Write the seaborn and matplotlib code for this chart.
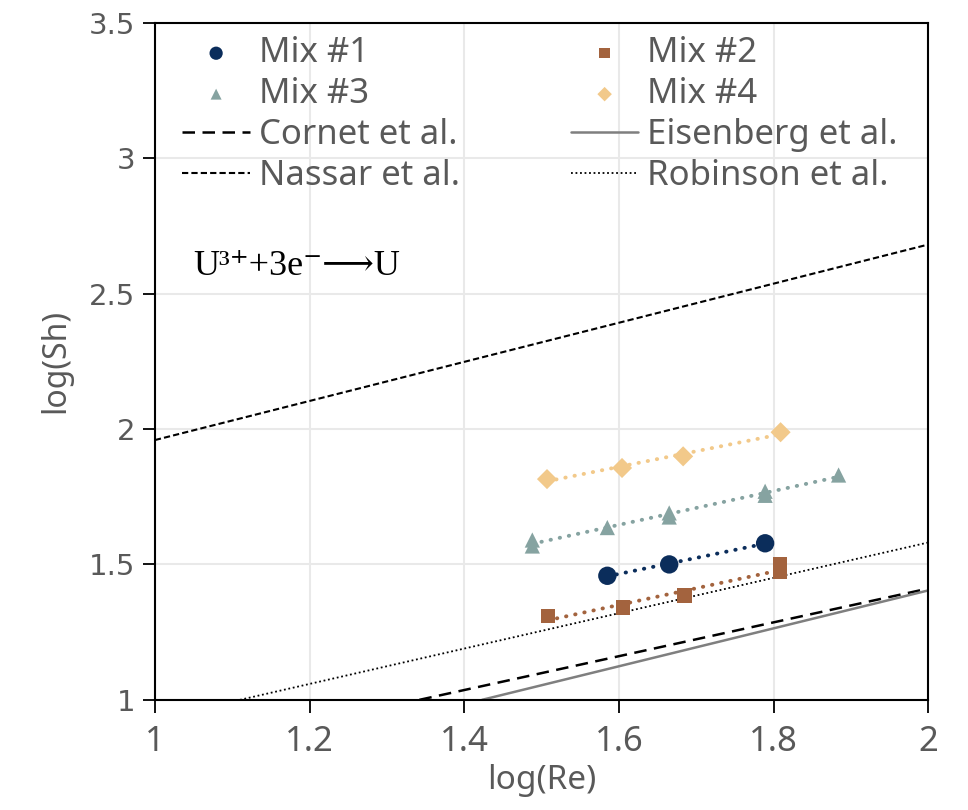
import numpy as np
import pandas as pd
import matplotlib
matplotlib.use("Agg")
import matplotlib.pyplot as plt
import seaborn as sns

# ==========================================================
# DATA
# ==========================================================
mix1_x = [1.585, 1.665, 1.789]
mix1_y = [1.458, 1.500, 1.578]

mix2_x = [1.508, 1.605, 1.685, 1.808, 1.808]
mix2_y = [1.310, 1.340, 1.385, 1.500, 1.472]

mix3_x = [1.488, 1.488, 1.585, 1.665, 1.665, 1.789, 1.789, 1.884]
mix3_y = [1.568, 1.590, 1.636, 1.675, 1.690, 1.755, 1.770, 1.830]

mix4_x = [1.507, 1.604, 1.683, 1.809]
mix4_y = [1.815, 1.856, 1.899, 1.988]

# literature correlations (end points of each line)
cornet_x = [1.342, 2.0]
cornet_y = [1.0, 1.411]
eisenberg_x = [1.423, 2.0]
eisenberg_y = [1.0, 1.404]
nassar_x = [1.0, 2.0]
nassar_y = [1.959, 2.681]
robinson_x = [1.11, 2.0]
robinson_y = [1.0, 1.581]

mix_names = ["Mix #1", "Mix #2", "Mix #3", "Mix #4"]
mix_colors = ["#0B2D5B", "#A3633E", "#86A3A1", "#F2C98A"]
mix_markers = ["o", "s", "^", "D"]
mix_sizes = [175, 110, 120, 105]

x_ticklabels = ["1", "1.2", "1.4", "1.6", "1.8", "2"]
y_ticklabels = ["1", "1.5", "2", "2.5", "3", "3.5"]

# ==========================================================
# STYLE
# ==========================================================
sns.set_theme(style="whitegrid")
plt.rcParams["font.family"] = ["Noto Sans", "DejaVu Sans"]
TXT = "#595959"

fig = plt.figure(figsize=(9.68, 8.10), dpi=100)
ax = fig.add_axes([0.160, 0.136, 0.799, 0.836])

mixes = [(mix1_x, mix1_y), (mix2_x, mix2_y), (mix3_x, mix3_y), (mix4_x, mix4_y)]
handles = {}
for (xs, ys), name, col, mk, sz in zip(mixes, mix_names, mix_colors, mix_markers, mix_sizes):
    df = pd.DataFrame({"x": xs, "y": ys})
    sns.regplot(data=df, x="x", y="y", ax=ax, ci=None, scatter=False,
                line_kws=dict(color=col, ls=(0, (0.1, 2.3)), lw=2.8,
                              dash_capstyle="round"))
    h = ax.scatter(df["x"], df["y"], s=sz, marker=mk, color=col,
                   edgecolor="none", zorder=4, label=name)
    handles[name] = h

lines = [
    ("Cornet et al.", cornet_x, cornet_y, dict(color="black", ls=(0, (5, 3)), lw=1.8)),
    ("Eisenberg et al.", eisenberg_x, eisenberg_y, dict(color="#7F7F7F", ls="-", lw=1.8)),
    ("Nassar et al.", nassar_x, nassar_y, dict(color="black", ls=(0, (3, 1.5)), lw=1.5)),
    ("Robinson et al.", robinson_x, robinson_y, dict(color="black", ls=(0, (1, 1.5)), lw=1.3)),
]
for name, xs, ys, kw in lines:
    sns.lineplot(x=xs, y=ys, ax=ax, estimator=None, sort=False, **kw)
    handles[name] = ax.get_lines()[-1]

ax.set_xlim(1, 2)
ax.set_ylim(1, 3.5)
ax.set_xticks(np.arange(1, 2.01, 0.2))
ax.set_xticklabels(x_ticklabels, fontsize=25, color=TXT)
ax.set_yticks(np.arange(1, 3.51, 0.5))
ax.set_yticklabels(y_ticklabels, fontsize=21, color=TXT, family="DejaVu Sans")

ax.set_facecolor("white")
ax.grid(True, color="#E9E9E9", lw=1.5)
for side in ["left", "bottom", "top", "right"]:
    ax.spines[side].set_visible(True)
    ax.spines[side].set_color("black")
    ax.spines[side].set_linewidth(1.5)
ax.tick_params(axis="both", which="major", direction="out", length=9, width=1.3,
               color="black", left=True, bottom=True)
ax.tick_params(axis="y", pad=5)
ax.tick_params(axis="x", pad=9)

ax.set_xlabel("log(Re)", fontsize=24, color=TXT, labelpad=4)
ax.set_ylabel("log(Sh)", fontsize=23, color=TXT, labelpad=12)

ax.text(1.05, 2.6, "U³⁺+3e⁻⟶U", fontsize=26,
        family=["Liberation Serif", "DejaVu Serif", "DejaVu Sans"], color="black",
        va="center", ha="left")

order = ["Mix #1", "Mix #3", "Cornet et al.", "Nassar et al.",
         "Mix #2", "Mix #4", "Eisenberg et al.", "Robinson et al."]
leg = ax.legend([handles[k] for k in order], order, ncol=2, loc="upper left",
                bbox_to_anchor=(-0.005, 1.026), frameon=False, fontsize=25,
                handlelength=1.95, handletextpad=0.25, columnspacing=3.2,
                labelspacing=0.2, markerscale=0.72)
for t in leg.get_texts():
    t.set_color(TXT)

fig.savefig("out.png", dpi=100, facecolor="white")
